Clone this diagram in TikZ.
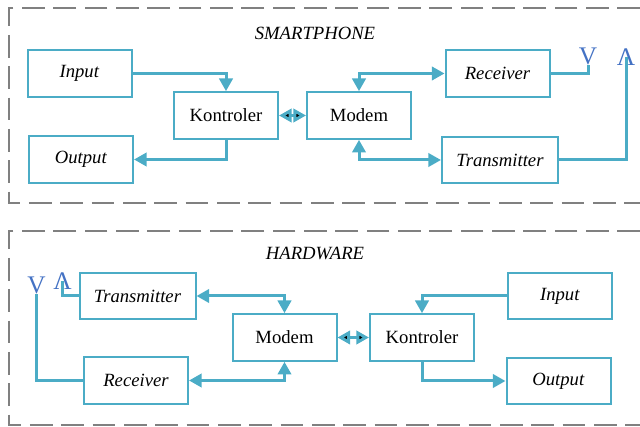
\documentclass[tikz,border=0pt]{standalone}
\usepackage{fontspec}
\setmainfont{Liberation Serif}
\usepackage{tikz}
\usetikzlibrary{arrows.meta}

\definecolor{boxline}{RGB}{75,172,198}
\definecolor{antblue}{RGB}{68,114,196}
\definecolor{framegray}{RGB}{128,128,128}

\tikzset{
	head/.tip={Triangle[length=9.5pt,width=10pt]}
}

\begin{document}
\begin{tikzpicture}[x=0.75pt,y=-0.75pt,
	box/.style={draw=boxline,line width=1.5pt,minimum width=78pt,minimum height=35pt,inner sep=0pt,font=\fontsize{14}{16}\selectfont},
	wide/.style={minimum width=87pt},
	conn/.style={draw=boxline,line width=2.25pt},
	ant/.style={text=antblue,inner sep=0pt,font=\fontsize{19}{19}\selectfont},
	frame/.style={draw=framegray,line width=1.5pt,dash pattern=on 17pt off 6.5pt},
	title/.style={font=\itshape\fontsize{14}{16}\selectfont}]
		\useasboundingbox (0,0) rectangle (640,427);
		%
		\draw[frame] (640,8) -- (9,8) -- (9,203) -- (640,203);
		\draw[frame] (640,231) -- (9,231) -- (9,425) -- (640,425);
		%
		\node[title] (sp) at (315,33) {SMARTPHONE};
		\node[box] (inp) at (79.5,73.5) {\textit{Input}};
		\node[box] (out) at (81,159.5) {\textit{Output}};
		\node[box] (kon) at (226,115.5) {Kontroler};
		\node[box] (mod) at (359,115.5) {Modem};
		\node[box] (rec) at (497.5,73.5) {\textit{Receiver}};
		\node[box,wide] (tra) at (500,160) {\textit{Transmitter}};
		\node[ant] (antV) at (588,56.5) {V};
		\node[ant] (antL) at (626,57.5) {Λ};
		%
		\draw[conn,-head] (inp.east) -| (kon.north);
		\draw[conn,-head] (kon.south) |- (out.east);
		\path[conn,head-head] (kon) edge (mod);
		\draw[conn,head-head] (mod.north) |- (rec.west);
		\draw[conn,head-head] (mod.south) |- (tra.west);
		\draw[conn] (rec.east) -| (antV.south);
		\draw[conn] (tra.east) -| (antL.center);
		%
		\node[title] (hw) at (315,253) {HARDWARE};
		\node[box,wide] (tra2) at (137.5,296) {\textit{Transmitter}};
		\node[box] (rec2) at (136,380.5) {\textit{Receiver}};
		\node[box] (mod2) at (284.5,337.5) {Modem};
		\node[box] (kon2) at (422,337.5) {Kontroler};
		\node[box] (inp2) at (560,296) {\textit{Input}};
		\node[box] (out2) at (558.5,381) {\textit{Output}};
		\node[ant] (antV2) at (36.5,285) {V};
		\node[ant] (antL2) at (62.5,281.5) {Λ};
		%
		\draw[conn,head-head] (tra2.east) -| (mod2.north);
		\draw[conn,head-head] (rec2.east) -| (mod2.south);
		\path[conn,head-head] (mod2) edge (kon2);
		\draw[conn,-head] (inp2.west) -| (kon2.north);
		\draw[conn,-head] (kon2.south) |- (out2.west);
		\draw[conn] (tra2.west) -| (antL2.center);
		\draw[conn] (rec2.west) -| (antV2.south);
\end{tikzpicture}
\end{document}
